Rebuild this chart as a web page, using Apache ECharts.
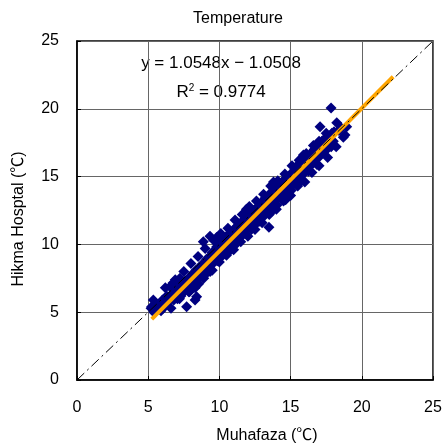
<!DOCTYPE html>
<html><head><meta charset="utf-8">
<script src="https://cdn.jsdelivr.net/npm/echarts@6/dist/echarts.min.js"></script>
<style>html,body{margin:0;padding:0;background:#fff}#c{width:446px;height:445px}</style>
</head><body><div id="c"></div>
<script>
const chartTitle = 'Temperature';
const xName = 'Muhafaza (℃)';
const yName = 'Hikma Hosptal (℃)';
const tickValues = [0, 5, 10, 15, 20, 25];
const muhafaza = [5.2,5.24,5.36,5.4,5.5,5.6,5.8,5.9,6.0,6.1,6.2,6.3,6.4,6.53,6.6,6.7,6.74,6.8,6.9,7.0,7.1,7.23,7.2,7.3,7.4,7.5,7.7,7.6,7.7,7.8,7.9,8.0,8.0,8.1,8.2,8.3,8.29,8.4,8.4,8.5,8.6,8.7,8.8,8.87,8.9,9.0,9.1,9.2,9.34,9.3,9.4,9.5,9.6,9.7,9.8,9.9,10.0,10.0,10.1,10.2,10.3,10.4,10.5,10.5,10.6,10.7,10.8,10.9,11.0,11.0,11.1,11.2,11.3,11.4,11.5,11.6,11.7,11.8,11.9,12.0,12.0,12.1,12.2,12.3,12.4,12.5,12.6,12.7,12.8,12.9,13.0,13.0,13.1,13.2,13.3,13.4,13.48,13.5,13.6,13.7,13.8,13.9,14.0,14.1,14.2,14.3,14.4,14.5,14.6,14.7,14.8,14.9,15.0,15.1,15.2,15.3,15.4,15.5,15.6,15.7,15.8,15.9,16.0,16.1,16.2,16.3,16.4,16.5,16.6,16.7,16.8,16.9,17.0,17.07,17.2,17.3,17.4,17.5,17.7,17.84,17.9,18.0,18.24,18.4,18.82,18.94,
6.05,6.35,6.75,7.05,7.35,7.55,7.85,8.15,8.35,8.55,8.75,8.95,9.15,9.35,9.55,9.75,9.85,10.05,10.25,10.45,10.65,10.85,11.05,11.25,11.45,11.65,11.85,12.05,12.25,12.45,12.65,12.85,13.05,13.25,13.45,13.65,13.85,14.05,14.25,14.45,14.65,14.85,15.05,15.25,15.45,15.65,15.85,16.05,16.25,16.45,16.65,16.85,17.05,17.25,17.45,17.65,17.85,18.05,18.55,18.7,
6.2,6.9,7.5,8.0,8.5,9.0,9.6,10.1,10.6,11.1,11.6,12.1,12.6,13.1,13.6,14.1,14.6,15.1,15.6,16.1,16.6,17.0,17.5,9.8,11.9,13.8,15.9,
6.6,7.2,7.9,8.4,8.9,9.5,10.0,10.5,11.0,11.5,12.0,12.5,13.0,13.5,14.0,14.5,15.0,15.5,16.0,16.5,17.0,17.6,18.2,12.8,14.8,10.8,
6.4,7.0,7.6,8.2,8.8,9.4,10.0,10.6,11.2,11.8,12.4,13.0,13.6,14.2,14.8,15.4,16.0,16.6,17.2,17.8];
const hikma = [5.3,5.4,5.9,5.0,5.2,5.5,5.6,5.1,5.9,5.4,5.7,6.2,5.8,6.88,6.0,6.4,7.15,5.9,6.6,6.3,6.9,7.5,6.5,6.2,7.1,6.8,5.41,6.6,7.3,7.0,7.6,6.9,7.4,7.8,7.2,6.8,5.9,6.14,7.9,7.5,8.3,7.8,8.0,10.2,8.6,8.2,8.9,8.4,10.6,9.1,8.7,9.4,8.9,9.3,9.8,9.0,9.6,10.1,9.3,9.9,10.4,9.7,10.1,10.6,9.9,10.3,10.8,10.0,10.6,11.1,10.3,10.9,11.4,10.6,11.1,11.7,10.9,11.4,11.9,11.2,11.7,12.2,11.5,12.0,12.5,11.8,12.3,12.8,12.0,12.6,13.1,12.4,12.9,13.4,12.6,13.2,11.26,13.7,12.9,13.5,14.0,13.2,13.8,14.3,13.5,14.1,14.6,13.8,14.4,14.9,14.1,14.7,15.2,14.4,15.0,15.5,14.7,15.3,15.8,15.0,15.6,16.1,15.3,15.9,16.5,15.7,16.3,16.8,16.0,16.6,17.2,16.4,17.0,18.68,17.6,16.8,17.4,17.9,17.3,20.06,18.2,17.6,18.98,18.4,18.07,18.68,
5.3,6.0,6.7,6.0,7.0,7.2,6.5,7.0,8.1,7.1,8.5,7.7,8.2,8.0,8.6,9.6,8.8,9.0,9.4,10.2,9.5,10.5,9.9,10.4,11.4,10.7,11.0,11.9,11.1,12.1,11.6,12.9,12.0,12.8,13.5,12.4,13.6,12.9,14.3,13.7,13.3,15.0,14.0,14.5,15.8,14.6,15.2,16.4,15.4,16.0,17.0,15.9,16.5,17.1,16.9,17.8,17.2,18.3,18.6,17.9,
6.8,7.4,8.0,8.6,9.1,9.7,10.3,10.8,11.2,11.8,12.2,12.8,13.2,13.7,14.3,14.7,15.2,15.8,16.2,16.7,17.3,17.6,18.2,10.5,12.6,14.6,16.6,
5.3,6.0,6.5,7.1,7.5,8.1,8.7,9.2,9.6,10.2,10.6,11.1,11.6,12.2,12.6,13.2,13.6,14.3,14.6,15.3,15.8,16.4,17.2,11.7,13.5,9.6,
6.1,6.7,7.3,7.9,8.5,9.1,9.7,10.3,10.9,11.5,12.1,12.7,13.3,13.9,14.5,15.1,15.7,16.3,16.9,17.5];
const slope = 1.0548, intercept = -1.0508;
const trendX = [5.25, 22.2];
const identityX = [0, 25];
const eqText = 'y = 1.0548x − 1.0508';
const r2Value = '0.9774';

const pts = muhafaza.map((x, i) => [x, hikma[i]]);
const trend = trendX.map(x => [x, slope * x + intercept]);
const ident = identityX.map(x => [x, x]);
const FONT = '"Liberation Sans", "Noto Sans CJK JP", sans-serif';
const chart = echarts.init(document.getElementById('c'));
const axisCommon = {
  type: 'value', min: 0, max: 25, interval: 5,
  axisLine: {show: true, lineStyle: {color: '#000', width: 1.5}},
  axisTick: {show: true, inside: true, length: 4, lineStyle: {color: '#000'}},
  splitLine: {show: true, lineStyle: {color: '#666', width: 1}},
  axisLabel: {color: '#000', fontSize: 16, fontFamily: FONT}
};
chart.setOption({
  animation: false,
  grid: {left: 77, right: 13, top: 41, bottom: 65, show: true, borderColor: '#000', borderWidth: 1.5},
  xAxis: Object.assign({}, axisCommon, {axisLabel: Object.assign({}, axisCommon.axisLabel, {margin: 20})}),
  yAxis: Object.assign({}, axisCommon, {axisLabel: Object.assign({}, axisCommon.axisLabel, {margin: 18})}),
  graphic: [
    {type: 'text', x: 238, y: 19, style: {text: chartTitle, font: '16px ' + FONT, fill: '#000', align: 'center', verticalAlign: 'middle'}},
    {type: 'text', x: 267, y: 436, style: {text: xName, font: '16px ' + FONT, fill: '#000', align: 'center', verticalAlign: 'middle'}},
    {type: 'text', x: 19, y: 219, rotation: Math.PI / 2, style: {text: yName, font: '16px ' + FONT, fill: '#000', align: 'center', verticalAlign: 'middle'}},
    {type: 'text', x: 221, y: 63, style: {text: eqText, font: '17px ' + FONT, fill: '#000', align: 'center', verticalAlign: 'middle'}},
    {type: 'text', x: 221, y: 92, style: {text: '{a|R}{s|2}{a| = ' + r2Value + '}', align: 'center', verticalAlign: 'middle',
      rich: {a: {fontSize: 17, fontFamily: FONT, color: '#000'}, s: {fontSize: 10, fontFamily: FONT, color: '#000', verticalAlign: 'top', padding: [0, 0, 8, 0]}}}}
  ],
  series: [
    {type: 'scatter', data: pts, symbol: 'diamond', symbolSize: 11, itemStyle: {color: '#000080', opacity: 1}, z: 2},
    {type: 'line', data: trend, symbol: 'none', lineStyle: {color: '#FFA500', width: 4}, z: 3},
    {type: 'line', data: ident, symbol: 'none', lineStyle: {color: '#000', width: 1, type: [10, 4, 2, 4]}, z: 4}
  ]
});
</script></body></html>
